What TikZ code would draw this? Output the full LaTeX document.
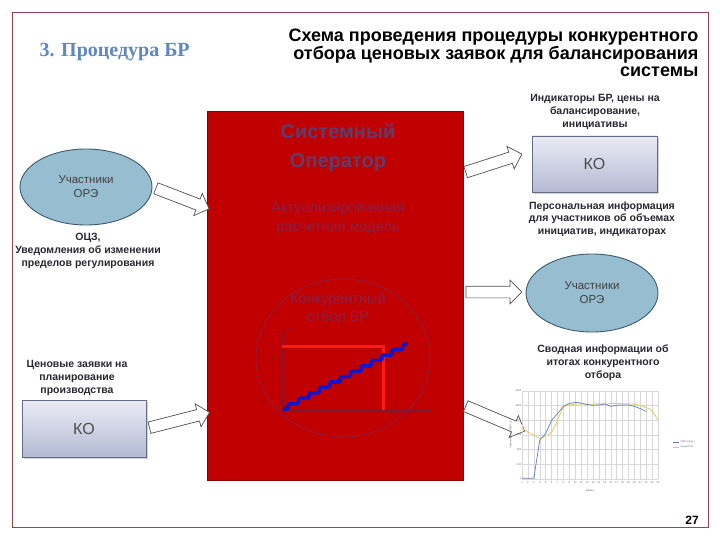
\documentclass[tikz,border=0pt]{standalone}
\usepackage{fontspec}
\setmainfont{Liberation Sans}
\newfontfamily\serifbf{Liberation Serif}
\usetikzlibrary{shapes.arrows,shapes.geometric,shadows}
\definecolor{framec}{RGB}{150,70,80}
\definecolor{headblue}{RGB}{95,135,190}
\definecolor{sored}{RGB}{192,0,0}
\definecolor{sotext}{RGB}{92,62,108}
\definecolor{somuted}{RGB}{140,32,72}
\definecolor{orefill}{RGB}{150,190,208}
\definecolor{oredraw}{RGB}{60,90,110}
\definecolor{kotop}{RGB}{234,236,245}
\definecolor{kobot}{RGB}{180,186,212}
\definecolor{kodraw}{RGB}{100,108,138}
\definecolor{labc}{RGB}{40,40,50}
\definecolor{arrowc}{RGB}{80,80,80}
\definecolor{gridc}{RGB}{215,215,215}
\definecolor{plotblue}{RGB}{90,130,190}
\definecolor{plotyel}{RGB}{232,200,100}
\definecolor{stairblue}{RGB}{20,20,200}
\definecolor{brightred}{RGB}{255,25,25}
\definecolor{axisc}{RGB}{120,25,50}
\tikzset{
  blockarrow/.style={single arrow, draw=arrowc, fill=white, line width=0.7pt,
    inner sep=5.5pt, minimum width=0pt, single arrow head extend=6pt,
    single arrow head indent=0pt},
  orenode/.style={ellipse, draw=oredraw, fill=orefill, line width=0.9pt,
    align=center, text=black!75, font=\fontsize{11.5}{14}\selectfont},
  kobox/.style={rectangle, draw=kodraw, line width=0.7pt, top color=kotop,
    bottom color=kobot, text=black!70, font=\fontsize{16}{18}\selectfont,
    drop shadow={opacity=0.35, shadow xshift=2pt, shadow yshift=-2pt}},
  lab/.style={align=center, text=labc, font=\bfseries\fontsize{10.5}{13.2}\selectfont},
  tiny/.style={text=black!60, font=\fontsize{2.6}{3}\selectfont, inner sep=0.5pt},
}
\begin{document}
\begin{tikzpicture}[x=1pt,y=-1pt]
\useasboundingbox (0,0) rectangle (720,540);
\fill[white] (0,0) rectangle (720,540);
\draw[framec, line width=0.8pt] (12,12) rectangle (708,527);

\node[anchor=west, text=headblue, font=\serifbf\bfseries\fontsize{20}{22}\selectfont] (head) at (36,52) {3. Процедура БР};
\node[anchor=east, align=right, font=\bfseries\fontsize{18}{17.6}\selectfont] (title) at (702,53)
  {Схема проведения процедуры конкурентного\\отбора ценовых заявок для балансирования\\системы};

% System operator
\node[draw=sored!70!black, fill=sored, minimum width=256, minimum height=369, anchor=north west] (so) at (207,111) {};
\node[align=center, text=sotext, font=\bfseries\fontsize{20}{29}\selectfont] (sotitle) at (338,148) {Системный\\Оператор};
\node[align=center, text=somuted, font=\fontsize{14.5}{19}\selectfont] (model) at (338,219) {Актуализированная\\расчетная модель};
\node[ellipse, draw=somuted, line width=0.7pt, minimum width=174, minimum height=158] (circ) at (343,358) {};
\node[align=center, text=somuted, font=\fontsize{14.5}{18}\selectfont] (sel) at (338,309) {Конкурентный\\отбор БР};
% staircase chart
\draw[axisc, line width=0.6pt] (282,333) -- (282,410) -- (432,410);
\node[text=axisc, font=\fontsize{4}{5}\selectfont, anchor=south west, inner sep=0.5pt] (yl) at (282,333) {Цена};
\node[text=axisc, font=\fontsize{4}{5}\selectfont, anchor=north west, inner sep=0.5pt] (xl) at (388,411) {Объем, МВт};
\draw[axisc, line width=0.6pt] (282,357) -- (381,357);
\draw[brightred, line width=3pt] (282,346) -- (383,346) -- (383,410);
\draw[stairblue, line width=3.6pt, rounded corners=1.5pt] (283,409)
  \foreach \i in {1,...,12} { -- ++(5.2,0) -- ++(0,-5.4) -- ++(5.2,0) };

% left ellipse
\node[orenode, minimum width=132, minimum height=76] (ore1) at (86,187) {Участники\\ОРЭ};
\node[lab] (lab1) at (88,251) {ОЦЗ,\\Уведомления об изменении\\пределов регулирования};
\coordinate (a1e) at (207,208);
\path (ore1.east) -- (a1e) node[blockarrow, midway, sloped, minimum height=57] (ar1) {};

% left KO
\node[lab] (lab2) at (77,378) {Ценовые заявки на\\планирование\\производства};
\node[kobox, minimum width=124, minimum height=57] (ko1) at (84,428.5) {КО};
\coordinate (a2e) at (207,413);
\path (ko1.east) -- (a2e) node[blockarrow, midway, sloped, minimum height=62] (ar2) {};

% right KO
\node[lab] (lab3) at (595,112) {Индикаторы БР, цены на\\балансирование,\\инициативы};
\node[kobox, minimum width=125, minimum height=56] (ko2) at (594.5,164) {КО};
\node[lab, font=\bfseries\fontsize{10.5}{12.6}\selectfont] (lab4) at (602,219) {Персональная информация\\для участников об объемах\\инициатив, индикаторах};
\coordinate (a3s) at (463,173);
\coordinate (a3e) at (519,155);
\path (a3s) -- (a3e) node[blockarrow, midway, sloped, minimum height=59] (ar3) {};

% right ellipse
\node[orenode, minimum width=132, minimum height=78] (ore2) at (592,293) {Участники\\ОРЭ};
\coordinate (a4s) at (463,292);
\coordinate (a4e) at (519,292);
\path (a4s) -- (a4e) node[blockarrow, midway, sloped, minimum height=56] (ar4) {};
\node[lab] (lab5) at (603,363) {Сводная информации об\\итогах  конкурентного\\отбора};

% right chart
\coordinate (a5s) at (463,405);
\coordinate (a5e) at (522,430);
\path (a5s) -- (a5e) node[blockarrow, midway, sloped, minimum height=64] (ar5) {};
\begin{scope}[shift={(522,479)}, x=5.913pt, y=0.07333pt]
  \foreach \h in {0,...,23} \draw[gridc, line width=0.4pt] (\h,0) -- (\h,1200);
  \foreach \v in {0,200,...,1200} {
    \draw[gridc, line width=0.4pt] (0,\v) -- (23,\v);
    \node[tiny, anchor=east] at (0,\v) {\v};
  }
  \foreach \h [evaluate=\h as \hl using int(\h+1)] in {0,...,23}
    \node[tiny, inner sep=0pt] at (\h,-50) {\hl};
  \node[tiny, rotate=90] (ytitle) at (-1.9,600) {Значение (руб./МВт·ч)};
  \node[tiny] (xtitle) at (11.5,-160) {Время};
  \draw[plotyel, line width=0.8pt] plot[smooth] coordinates {(0,700) (1,640) (2,600) (3,555) (4,585) (5,640) (6,800) (7,980) (8,1010) (9,1020) (10,1025) (11,1020) (12,1020) (13,1025) (14,1020) (15,1030) (16,1030) (17,1025) (18,1025) (19,1020) (20,1000) (21,975) (22,930) (23,800)};
  \draw[plotblue, line width=0.7pt] (0,10) -- (1,10) -- (2,10) -- (3,530) -- (4,620) -- (5,800) -- (6,890) -- (7,990) -- (8,1030) -- (9,1045) -- (10,1035) -- (11,1015) -- (12,1005) -- (13,1010) -- (14,1025) -- (15,990) -- (16,1005) -- (17,1010) -- (18,1010) -- (19,990) -- (20,960) -- (21,920);
\end{scope}
\draw[plotblue, line width=0.6pt] (673,442) -- (679,442);
\draw[plotyel, line width=0.6pt] (673,447) -- (679,447);
\node[tiny, anchor=west] (leg1) at (680,442) {НБР (сред.)};
\node[tiny, anchor=west] (leg2) at (680,447) {Цена РСВ};

\node[font=\bfseries\fontsize{12}{14}\selectfont] (pg) at (692,520) {27};
\end{tikzpicture}
\end{document}
